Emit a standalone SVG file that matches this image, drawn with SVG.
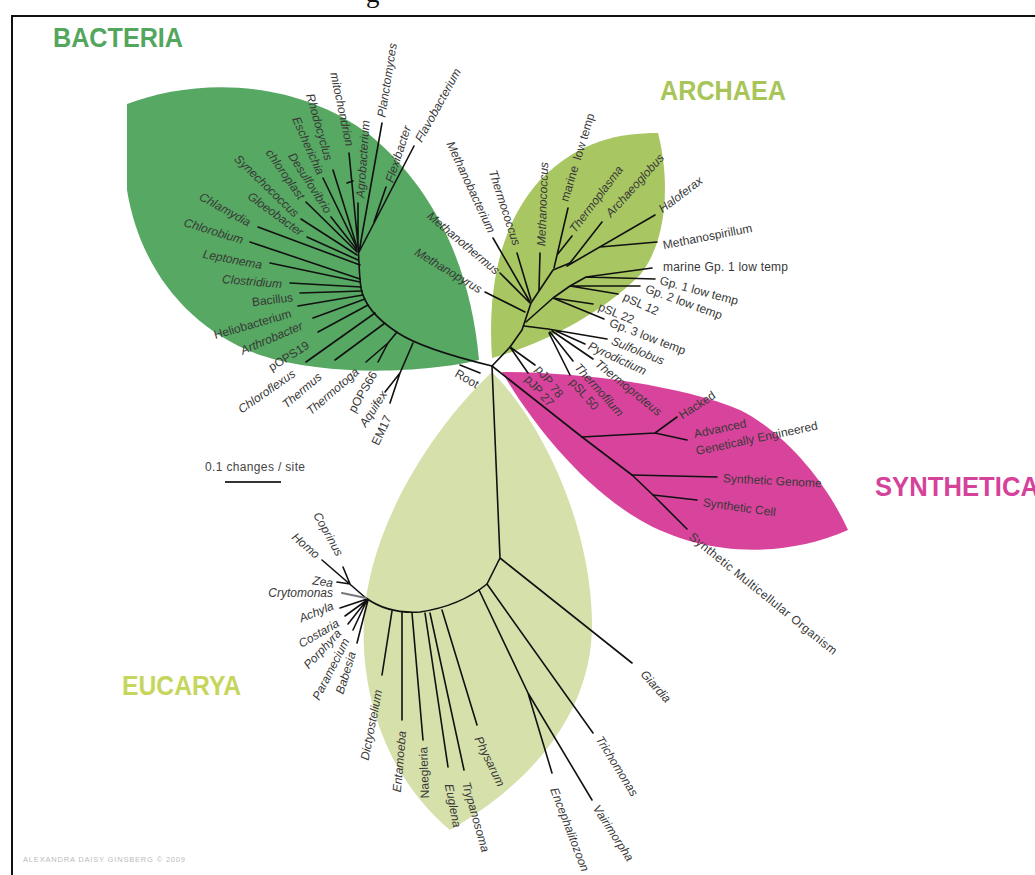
<svg xmlns="http://www.w3.org/2000/svg" width="1035" height="875" viewBox="0 0 1035 875">
<style>
.l{font-family:"Liberation Sans",Arial,sans-serif;font-size:12px;fill:#383838}
.i{font-style:italic}
.e{text-anchor:end}
.t{font-family:"Liberation Sans",Arial,sans-serif;font-weight:bold;font-size:27px}
.c path{stroke:#111;stroke-width:1.6;fill:none;stroke-linecap:round;stroke-linejoin:round}
</style>
<rect width="1035" height="875" fill="#fff"/>
<path d="M12,875 V16 H1035" stroke="#111" stroke-width="2" fill="none"/>
<text x="366" y="2" font-family="Liberation Serif,serif" font-size="27" fill="#111">g</text>

<g id="leaves">
<path id="leaf-bacteria" d="M127,104 C190,80 290,75 370,135 C430,185 470,260 479,360 C430,372 330,378 260,355 C190,330 140,270 127,190 Z" fill="#56a862"/>
<path id="leaf-archaea" d="M492,358 C488,300 495,230 540,180 C580,140 620,133 658,133 C670,180 668,240 640,275 C600,315 540,345 492,358 Z" fill="#a8c662"/>
<path id="leaf-eucarya" d="M492,372 C540,420 590,520 592,620 C594,720 520,790 450,830 C390,780 360,700 364,620 C368,530 430,430 492,372 Z" fill="#d6e0ab"/>
<path id="leaf-synthetic" d="M502,372 C580,372 680,385 740,410 C790,435 830,490 848,530 C780,560 700,555 640,520 C580,485 530,420 502,372 Z" fill="#d8449c"/>
</g>

<g id="titles" class="t">
<text x="53" y="47" fill="#52a65e" textLength="130" lengthAdjust="spacingAndGlyphs">BACTERIA</text>
<text x="660" y="100" fill="#a8c55a" textLength="126" lengthAdjust="spacingAndGlyphs">ARCHAEA</text>
<text x="122" y="695" fill="#c6d65c" textLength="119" lengthAdjust="spacingAndGlyphs">EUCARYA</text>
<text x="875" y="496" fill="#d5429a" textLength="164" lengthAdjust="spacingAndGlyphs">SYNTHETICA</text>
</g>

<g id="connectors" class="c">
<!-- bacteria -->
<path d="M492,366 C455,357 418,346 398,333 C378,320 364,305 361,288 C359,275 359,258 358,245"/>
<path d="M413,343 L400,373 L385,392 M400,373 L390,403"/>
<path d="M397,332 L388,343 L378,362 M388,343 L366,362"/>
<path d="M385,323 L335,360 M375,313 L306,362 M368,305 L318,332 M365,299 L313,318 M363,295 L298,306 M362,291 L300,293 M361,287 L290,283 M360,282 L270,263 M360,279 L250,242"/>
<path d="M360,265 L258,227 M358,260 L307,237 M357,255 L301,219 M357,252 L306,202 M357,250 L331,217 M357,248 L323,178 M357,247 L333,170"/>
<path d="M358,245 L349,153 M347,183 L353,181 M358,245 L358,203 M359,252 L382,123 M359,252 L414,146 M374,222 L386,187"/>
<path d="M460,365 L480,373"/>
<!-- archaea -->
<path d="M492,366 L510,347 L522,330 L531,303 L553,270 L570,263"/>
<path d="M510,347 L535,365 M510,347 L528,373"/>
<path d="M524,326 L548,329 L607,339 M556,331 L585,344 M552,331 L593,359 M550,332 L573,361 M549,333 L570,375"/>
<path d="M526,322 L553,298 L593,304 M553,298 L604,319 M553,298 L570,286 L618,294 M570,286 L640,286 M570,286 L586,277 L655,279 M586,277 L652,268"/>
<path d="M525,312 L485,292 M530,303 L500,273 M530,302 L493,238 M531,300 L517,253 M539,290 L540,253"/>
<path d="M554,268 L568,208 M557,255 L572,236 M570,263 L602,222 M567,266 L655,215 M600,247 L657,242"/>
<!-- synthetic -->
<path d="M492,366 L582,437 L632,475 L653,495 L687,529"/>
<path d="M582,437 L655,433 L677,417 M655,433 L687,440 M632,475 L717,477 M653,495 L697,500"/>
<!-- eucarya -->
<path d="M492,366 L500,558 L632,663 M500,558 L487,584 L593,733"/>
<path d="M479,590 L528,693 L552,773 M528,693 L592,800"/>
<path d="M487,584 Q460,606 420,612 Q388,614 366,598"/>
<path d="M392,611 L382,675 M402,612 L402,720 M412,613 L423,740 M425,613 L448,767 M430,613 L464,770 M442,610 L477,725"/>
<path d="M367,599 L322,560 M350,584 L343,567 M350,584 L337,582 M367,599 L340,608 M367,600 L345,616 M367,600 L348,624 M367,600 L353,630 M368,600 L357,643"/>
<path d="M366,598 L342,593" style="stroke:#777;stroke-width:2.2"/>
</g>

<!-- bacteria labels -->
<g id="n-flavobacterium"><text class="l i" transform="translate(418,141) rotate(-61)" dy=".35em">Flavobacterium</text></g>
<g id="n-flexibacter"><text class="l i" transform="translate(389,182) rotate(-72)" dy=".35em">Flexibacter</text></g>
<g id="n-planctomyces"><text class="l i" transform="translate(381,117) rotate(-81)" dy=".35em">Planctomyces</text></g>
<g id="n-agrobacterium"><text class="l i" transform="translate(360,198) rotate(-86)" dy=".35em">Agrobacterium</text></g>
<g id="n-mitochondrion"><text class="l i e" transform="translate(350,146) rotate(78)" dy=".35em">mitochondrion</text></g>
<g id="n-rhodocyclus"><text class="l i e" transform="translate(329,160) rotate(74)" dy=".35em">Rhodocyclus</text></g>
<g id="n-escherichia"><text class="l i e" transform="translate(321,174) rotate(66)" dy=".35em">Escherichia</text></g>
<g id="n-desulfovibrio"><text class="l i e" transform="translate(329,212) rotate(57)" dy=".35em">Desulfovibrio</text></g>
<g id="n-chloroplast"><text class="l i e" transform="translate(302,198) rotate(55)" dy=".35em">chloroplast</text></g>
<g id="n-synechococcus"><text class="l i e" transform="translate(297,215) rotate(44)" dy=".35em">Synechococcus</text></g>
<g id="n-gloeobacter"><text class="l i e" transform="translate(302,233) rotate(36)" dy=".35em">Gloeobacter</text></g>
<g id="n-chlamydia"><text class="l i e" transform="translate(250,223) rotate(29)" dy=".35em">Chlamydia</text></g>
<g id="n-chlorobium"><text class="l i e" transform="translate(243,240) rotate(17)" dy=".35em">Chlorobium</text></g>
<g id="n-leptonema"><text class="l i e" transform="translate(262,265) rotate(11)" dy=".35em">Leptonema</text></g>
<g id="n-clostridium"><text class="l i e" transform="translate(282,284) rotate(5)" dy=".35em">Clostridium</text></g>
<g id="n-bacillus"><text class="l e" transform="translate(293,297) rotate(-7)" dy=".35em">Bacillus</text></g>
<g id="n-heliobacterium"><text class="l e" transform="translate(291,313) rotate(-16)" dy=".35em">Heliobacterium</text></g>
<g id="n-arthrobacter"><text class="l i e" transform="translate(302,325) rotate(-23)" dy=".35em">Arthrobacter</text></g>
<g id="n-pops19"><text class="l e" transform="translate(308,344) rotate(-32)" dy=".35em">pOPS19</text></g>
<g id="n-chloroflexus"><text class="l i e" transform="translate(294,372) rotate(-35)" dy=".35em">Chloroflexus</text></g>
<g id="n-thermus"><text class="l i e" transform="translate(320,375) rotate(-40)" dy=".35em">Thermus</text></g>
<g id="n-thermotoga"><text class="l i e" transform="translate(357,370) rotate(-41)" dy=".35em">Thermotoga</text></g>
<g id="n-pops66"><text class="l e" transform="translate(374,372) rotate(-60)" dy=".35em">pOPS66</text></g>
<g id="n-aquifex"><text class="l i e" transform="translate(384,392) rotate(-57)" dy=".35em">Aquifex</text></g>
<g id="n-em17"><text class="l e" transform="translate(388,416) rotate(-65)" dy=".35em">EM17</text></g>
<g id="n-root"><text class="l e" transform="translate(478,385) rotate(30)" dy=".35em">Root</text></g>

<!-- archaea labels -->
<g id="n-methanopyrus"><text class="l i e" transform="translate(481,290) rotate(31)" dy=".35em">Methanopyrus</text></g>
<g id="n-methanothermus"><text class="l i e" transform="translate(498,272) rotate(40)" dy=".35em">Methanothermus</text></g>
<g id="n-methanobacterium"><text class="l i e" transform="translate(492,232) rotate(65)" dy=".35em">Methanobacterium</text></g>
<g id="n-thermococcus"><text class="l i e" transform="translate(517,245) rotate(72)" dy=".35em">Thermococcus</text></g>
<g id="n-methanococcus"><text class="l i" transform="translate(541,246) rotate(-88)" dy=".35em">Methanococcus</text></g>
<g id="n-marine-low-temp"><text class="l" xml:space="preserve" transform="translate(564,201) rotate(-73)" dy=".35em">marine  low temp</text></g>
<g id="n-thermoplasma"><text class="l i" transform="translate(572,231) rotate(-53)" dy=".35em">Thermoplasma</text></g>
<g id="n-archaeoglobus"><text class="l i" transform="translate(608,215) rotate(-48)" dy=".35em">Archaeoglobus</text></g>
<g id="n-haloferax"><text class="l i" transform="translate(660,210) rotate(-37)" dy=".35em">Haloferax</text></g>
<g id="n-methanospirillum"><text class="l" transform="translate(663,245) rotate(-11)" dy=".35em">Methanospirillum</text></g>
<g id="n-marine-gp1"><text class="l" transform="translate(663,267)" dy=".35em" textLength="125">marine Gp. 1 low temp</text></g>
<g id="n-gp1"><text class="l" transform="translate(660,280) rotate(15)" dy=".35em">Gp. 1 low temp</text></g>
<g id="n-gp2"><text class="l" transform="translate(646,288) rotate(20)" dy=".35em">Gp. 2 low temp</text></g>
<g id="n-psl12"><text class="l" transform="translate(624,296) rotate(25)" dy=".35em">pSL 12</text></g>
<g id="n-psl22"><text class="l" transform="translate(599,306) rotate(22)" dy=".35em">pSL 22</text></g>
<g id="n-gp3"><text class="l" transform="translate(610,322) rotate(21)" dy=".35em">Gp. 3 low temp</text></g>
<g id="n-sulfolobus"><text class="l i" transform="translate(612,340) rotate(22)" dy=".35em">Sulfolobus</text></g>
<g id="n-pyrodictium"><text class="l i" transform="translate(589,345) rotate(25)" dy=".35em">Pyrodictium</text></g>
<g id="n-thermoproteus"><text class="l i" transform="translate(597,362) rotate(39)" dy=".35em">Thermoproteus</text></g>
<g id="n-thermofilum"><text class="l i" transform="translate(577,365) rotate(48)" dy=".35em">Thermofilum</text></g>
<g id="n-psl50"><text class="l" transform="translate(572,380) rotate(49)" dy=".35em">pSL 50</text></g>
<g id="n-pjp78"><text class="l" transform="translate(538,367) rotate(52)" dy=".35em">pJP 78</text></g>
<g id="n-pjp27"><text class="l" transform="translate(527,377) rotate(48)" dy=".35em">pJP 27</text></g>

<!-- synthetic labels -->
<g id="n-hacked"><text class="l" transform="translate(680,416) rotate(-33)" dy=".35em">Hacked</text></g>
<g id="n-advanced"><text class="l" transform="translate(694,434) rotate(-12)" dy=".35em">Advanced</text><text class="l" transform="translate(696,451) rotate(-12)" dy=".35em">Genetically Engineered</text></g>
<g id="n-synthetic-genome"><text class="l" transform="translate(723,478) rotate(3)" dy=".35em">Synthetic Genome</text></g>
<g id="n-synthetic-cell"><text class="l" transform="translate(703,502) rotate(8)" dy=".35em">Synthetic Cell</text></g>
<g id="n-synthetic-multicellular"><text class="l" transform="translate(691,535) rotate(39)" dy=".35em" textLength="186">Synthetic Multicellular Organism</text></g>

<!-- eucarya labels -->
<g id="n-giardia"><text class="l i" transform="translate(643,672) rotate(48)" dy=".35em">Giardia</text></g>
<g id="n-trichomonas"><text class="l i" transform="translate(599,737) rotate(58)" dy=".35em">Trichomonas</text></g>
<g id="n-vairimorpha"><text class="l i" transform="translate(596,806) rotate(57)" dy=".35em">Vairimorpha</text></g>
<g id="n-encephalitozoon"><text class="l i" transform="translate(554,788) rotate(69)" dy=".35em">Encephalitozoon</text></g>
<g id="n-physarum"><text class="l i" transform="translate(478,737) rotate(64)" dy=".35em">Physarum</text></g>
<g id="n-trypanosoma"><text class="l i" transform="translate(466,782) rotate(74)" dy=".35em">Trypanosoma</text></g>
<g id="n-euglena"><text class="l i" transform="translate(449,784) rotate(79)" dy=".35em">Euglena</text></g>
<g id="n-naegleria"><text class="l e" transform="translate(423,747) rotate(-92)" dy=".35em">Naegleria</text></g>
<g id="n-entamoeba"><text class="l i e" transform="translate(402,731) rotate(-85)" dy=".35em">Entamoeba</text></g>
<g id="n-dictyostelium"><text class="l i e" transform="translate(378,690) rotate(-79)" dy=".35em">Dictyostelium</text></g>
<g id="n-babesia"><text class="l i e" transform="translate(352,652) rotate(-73)" dy=".35em">Babesia</text></g>
<g id="n-paramecium"><text class="l i e" transform="translate(346,639) rotate(-63)" dy=".35em">Paramecium</text></g>
<g id="n-porphyra"><text class="l i e" transform="translate(339,631) rotate(-47)" dy=".35em">Porphyra</text></g>
<g id="n-costaria"><text class="l i e" transform="translate(338,622) rotate(-30)" dy=".35em">Costaria</text></g>
<g id="n-achyla"><text class="l i e" transform="translate(333,605) rotate(-22)" dy=".35em">Achyla</text></g>
<g id="n-crytomonas"><text class="l i e" transform="translate(333,593)" dy=".35em">Crytomonas</text></g>
<g id="n-zea"><text class="l i e" transform="translate(333,583) rotate(8)" dy=".35em">Zea</text></g>
<g id="n-homo"><text class="l i e" transform="translate(318,556) rotate(41)" dy=".35em">Homo</text></g>
<g id="n-coprinus"><text class="l i e" transform="translate(340,555) rotate(61)" dy=".35em">Coprinus</text></g>

<g id="scale">
<text x="205" y="471" font-family="Liberation Sans,Arial,sans-serif" font-size="12" fill="#444" textLength="100">0.1 changes / site</text>
<path d="M225,482 H281" stroke="#333" stroke-width="2"/>
</g>
<text x="23" y="862" font-family="Liberation Sans,Arial,sans-serif" font-size="7.5" fill="#bbb" textLength="162" lengthAdjust="spacing">ALEXANDRA DAISY GINSBERG © 2009</text>
</svg>
